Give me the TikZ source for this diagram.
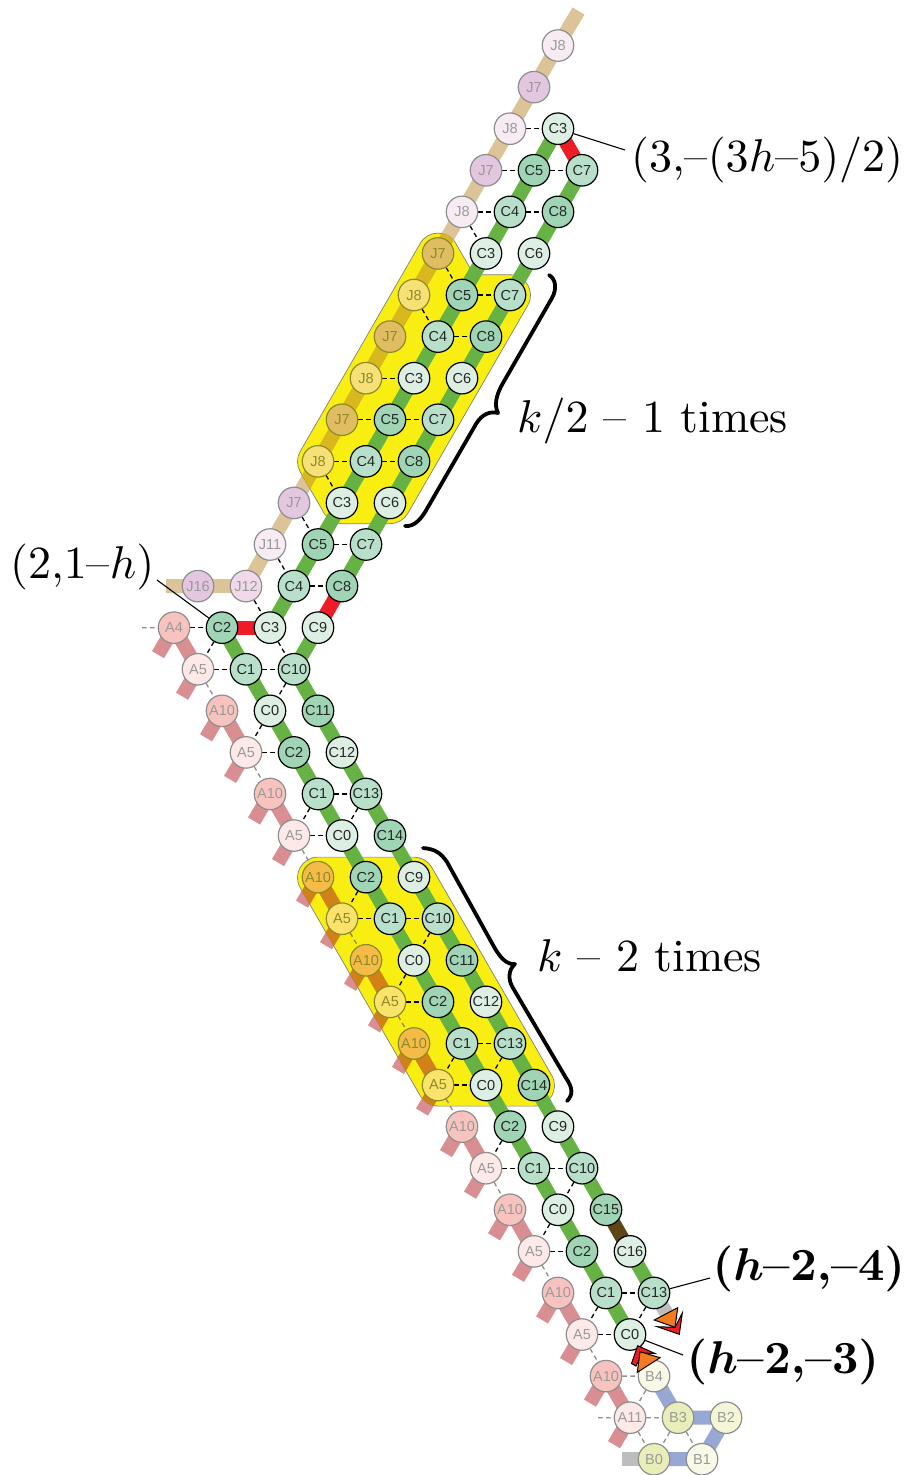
\documentclass[tikz,border=0pt]{standalone}
\usepackage{graphicx}
\usepackage[no-math]{fontspec}
\setsansfont{Liberation Sans}
\usetikzlibrary{calc,backgrounds}
\pgfdeclarelayer{lyback}\pgfdeclarelayer{lybox}\pgfdeclarelayer{lydark}\pgfdeclarelayer{lydash}\pgfdeclarelayer{lyfront}
\pgfsetlayers{lyback,lybox,lydark,lydash,lyfront,main}
\definecolor{cL}{HTML}{DDEEE3}\definecolor{cD}{HTML}{9FD4B4}\definecolor{cM}{HTML}{B8DFC9}
\definecolor{jL}{HTML}{F7ECF3}\definecolor{jD}{HTML}{E3C6DF}\definecolor{jM}{HTML}{EFD9EA}
\definecolor{aD}{HTML}{F8C3BF}\definecolor{aL}{HTML}{FDE9E7}
\definecolor{bL}{HTML}{F8F9E6}\definecolor{bD}{HTML}{E9EDB8}\definecolor{bM}{HTML}{F4F6D6}
\definecolor{yJL}{HTML}{F6E176}\definecolor{yJD}{HTML}{E0BC63}\definecolor{yAD}{HTML}{F4BC46}\definecolor{yAL}{HTML}{FAE36A}
\definecolor{fadeT}{HTML}{9A9A9A}\definecolor{fadeB}{HTML}{8E8E8E}\definecolor{oliv}{HTML}{8D8A2A}
\definecolor{boxY}{HTML}{F9EE12}\definecolor{tanB}{HTML}{DCC498}\definecolor{salB}{HTML}{D98E92}
\definecolor{tanY}{HTML}{D8B81E}\definecolor{salY}{HTML}{D28018}
\definecolor{grnB}{HTML}{66B245}\definecolor{redB}{HTML}{EE1C25}\definecolor{brnB}{HTML}{5E4516}
\definecolor{bluB}{HTML}{98A8D4}\definecolor{gryB}{HTML}{BDBDBD}\definecolor{orgT}{HTML}{F47B20}
\tikzset{
 site/.style={circle,minimum size=31.5pt,inner sep=0pt,line width=1.2pt,font=\fontsize{14.5}{14.5}\selectfont\sffamily},
 chem/.style={site,draw=black,text=black!85},
 fade/.style={site,draw=fadeB,text=fadeT},
 yfade/.style={site,draw=oliv,text=oliv},
 band/.style={line width=14pt,line cap=butt,line join=round},
 tanband/.style={band,draw=tanB},
 salband/.style={band,draw=salB},
 grnband/.style={band,draw=grnB},
 redband/.style={band,draw=redB},
 brnband/.style={band,draw=brnB},
 bluband/.style={band,draw=bluB},
 gryband/.style={band,draw=gryB},
 bdash/.style={draw=black,line width=1.3pt,dash pattern=on 4.5pt off 3.5pt},
 fdash/.style={draw=fadeB,line width=1.3pt,dash pattern=on 4.5pt off 3.5pt},
 ydash/.style={draw=oliv,line width=1.3pt,dash pattern=on 4.5pt off 3.5pt},
 leader/.style={draw=black,line width=1.1pt},
 bigtext/.style={inner sep=0pt,text=black},
 bracepath/.style={draw=black,line width=3.8pt,line cap=round,line join=round},
 tri/.style={draw=black,line width=1pt,line join=miter},
}
\newcommand{\boxone}{(420.25,243.35) .. controls (428.14,229.68) and (447.86,229.68) .. (455.75,243.35) -- (473.84,274.7) -- (510,274.7) .. controls (525.78,274.7) and (535.64,291.78) .. (527.75,305.45) -- (407.75,513.45) .. controls (404.09,519.79) and (397.32,523.7) .. (390,523.7) -- (342,523.7) .. controls (334.68,523.7) and (327.91,519.79) .. (324.25,513.45) -- (300.25,471.85) .. controls (296.59,465.51) and (296.59,457.69) .. (300.25,451.35) -- cycle}
\newcommand{\boxtwo}{(318,857.1) -- (414,857.1) .. controls (421.32,857.1) and (428.09,861.01) .. (431.75,867.35) -- (551.75,1075.35) .. controls (559.64,1089.02) and (549.78,1106.1) .. (534,1106.1) -- (438,1106.1) .. controls (430.68,1106.1) and (423.91,1102.19) .. (420.25,1095.85) -- (300.25,887.85) .. controls (292.36,874.18) and (302.22,857.1) .. (318,857.1) -- cycle}
\newcommand{\bigt}[1]{\scalebox{4.6}{#1}}
\begin{document}
\begin{tikzpicture}[x=1pt,y=-1pt]
\useasboundingbox (0,0) rectangle (908,1475);
% J chain
\foreach \r/\t/\st/\f in {-2/J8/fade/jL,-1/J7/fade/jD,0/J8/fade/jL,1/J7/fade/jD,2/J8/fade/jL,3/J7/yfade/yJD,4/J8/yfade/yJL,5/J7/yfade/yJD,6/J8/yfade/yJL,7/J7/yfade/yJD,8/J8/yfade/yJL,9/J7/fade/jD,10/J11/fade/jL,11/J12/fade/jM}
  \node[\st,fill=\f] (j\r) at ({510-24*\r},{128.7+41.58*\r}) {\t};
\node[fade,fill=jD] (j16) at (198,586.1) {J16};
% C chain a
\foreach \r/\t/\f in {0/C3/cL,1/C5/cD,2/C4/cM,3/C3/cL,4/C5/cD,5/C4/cM,6/C3/cL,7/C5/cD,8/C4/cM,9/C3/cL,10/C5/cD,11/C4/cM,12/C3/cL}
  \node[chem,fill=\f] (a\r) at ({558-24*\r},{128.7+41.58*\r}) {\t};
% C chain b upper
\foreach \r/\t/\f in {1/C7/cM,2/C8/cD,3/C6/cL,4/C7/cM,5/C8/cD,6/C6/cL,7/C7/cM,8/C8/cD,9/C6/cL,10/C7/cM,11/C8/cD,12/C9/cL}
  \node[chem,fill=\f] (b\r) at ({606-24*\r},{128.7+41.58*\r}) {\t};
% C chain b lower
\foreach \r/\t/\f in {13/C10/cM,14/C11/cD,15/C12/cL,16/C13/cM,17/C14/cD,18/C9/cL,19/C10/cM,20/C11/cD,21/C12/cL,22/C13/cM,23/C14/cD,24/C9/cL,25/C10/cM,26/C15/cD,27/C16/cL,28/C13/cM}
  \node[chem,fill=\f] (b\r) at ({294+24*(\r-13)},{128.7+41.58*\r}) {\t};
% C chain c
\foreach \r/\t/\f in {12/C2/cD,13/C1/cM,14/C0/cL,15/C2/cD,16/C1/cM,17/C0/cL,18/C2/cD,19/C1/cM,20/C0/cL,21/C2/cD,22/C1/cM,23/C0/cL,24/C2/cD,25/C1/cM,26/C0/cL,27/C2/cD,28/C1/cM,29/C0/cL}
  \node[chem,fill=\f] (c\r) at ({222+24*(\r-12)},{128.7+41.58*\r}) {\t};
% A chain
\foreach \r/\t/\st/\f in {12/A4/fade/aD,13/A5/fade/aL,14/A10/fade/aD,15/A5/fade/aL,16/A10/fade/aD,17/A5/fade/aL,18/A10/yfade/yAD,19/A5/yfade/yAL,20/A10/yfade/yAD,21/A5/yfade/yAL,22/A10/yfade/yAD,23/A5/yfade/yAL,24/A10/fade/aD,25/A5/fade/aL,26/A10/fade/aD,27/A5/fade/aL,28/A10/fade/aD,29/A5/fade/aL,30/A10/fade/aD,31/A11/fade/aL}
  \node[\st,fill=\f] (p\r) at ({174+24*(\r-12)},{128.7+41.58*\r}) {\t};
\foreach \r in {12,13,...,31}
  \coordinate (s\r) at ($(p\r)+(-16,27)$);
% B nodes
\node[fade,fill=bL] (q4) at (654,1376.1) {B4};
\node[fade,fill=bD] (q3) at (678,1417.7) {B3};
\node[fade,fill=bM] (q2) at (726,1417.7) {B2};
\node[fade,fill=bD] (q0) at (654,1459.2) {B0};
\node[fade,fill=bL] (q1) at (702,1459.2) {B1};
% free ends
\coordinate (tanTop) at (578.5,11);
\coordinate (tanEnd) at (166,586.1);
\coordinate (gryA) at (672,1322);
\coordinate (gryB) at (622,1459.2);
\coordinate (dashA) at (142,627.7);
\coordinate (dashB) at (598,1417.7);
% back bands
\begin{pgfonlayer}{lyback}
 \draw[tanband] (tanTop)--(j-2.center)--(j-1.center)--(j0.center)--(j1.center)--(j2.center)--(j3.center)--(j4.center)--(j5.center)--(j6.center)--(j7.center)--(j8.center)--(j9.center)--(j10.center)--(j11.center)--(j16.center)--(tanEnd);
 \foreach \r in {12,13,...,31}{\draw[salband] (p\r.center)--(s\r);}
 \foreach \u/\v in {12/13,14/15,16/17,18/19,20/21,22/23,24/25,26/27,28/29,30/31}{\draw[salband] (p\u.center)--(p\v.center);}
 \draw[bluband] (q4.center)--(q3.center)--(q2.center)--(q1.center)--(q0.center);
 \draw[gryband] (q0.center)--(gryB);
 \draw[gryband] (b28.center)--(gryA);
\end{pgfonlayer}
% yellow boxes
\begin{pgfonlayer}{lybox}
 \path[fill=boxY,draw=gray,line width=0.7pt] \boxone;
 \path[fill=boxY,draw=gray,line width=0.7pt] \boxtwo;
\end{pgfonlayer}
% darker bands inside boxes
\begin{pgfonlayer}{lydark}
 \begin{scope}
  \clip \boxone;
  \draw[band,draw=tanY] (j2.center)--(j3.center)--(j4.center)--(j5.center)--(j6.center)--(j7.center)--(j8.center)--(j9.center);
 \end{scope}
 \begin{scope}
  \clip \boxtwo;
  \foreach \r in {18,19,...,23}{\draw[band,draw=salY] (p\r.center)--(s\r);}
  \foreach \u/\v in {18/19,20/21,22/23}{\draw[band,draw=salY] (p\u.center)--(p\v.center);}
 \end{scope}
\end{pgfonlayer}
% dashed edges
\begin{pgfonlayer}{lydash}
 \foreach \u/\v in {j0/a0,j1/a1,a1/b1,j2/a2,a2/b2,j2/a3,j3/a4,a4/b4,j4/a5,a5/b5,j6/a6,j7/a7,a7/b7,j8/a8,a8/b8,j8/a9,j9/a10,a10/b10,j10/a11,a11/b11,j11/a12,p12/c12,c12/p13,p13/c13,c13/b13,a12/b13,b13/c14,c14/p15,p15/c15,c16/b16,c16/p17,b16/c17,p17/c17,c18/p19,p19/c19,c19/b19,b19/c20,c20/p21,p21/c21,c22/b22,c22/p23,b22/c23,p23/c23,c24/p25,p25/c25,c25/b25,b25/c26,c26/p27,p27/c27,c28/b28,c28/p29,b28/c29,p29/c29}{\draw[bdash] (\u)--(\v);}
 \foreach \u/\v in {p13/p14,p15/p16,p17/p18,p23/p24,p25/p26,p27/p28,p29/p30,p30/q4,q4/p31,p31/q3,p31/q0,q3/q0,q3/q1,dashA/p12,dashB/p31}{\draw[fdash] (\u)--(\v);}
 \foreach \u/\v in {p19/p20,p21/p22}{\draw[ydash] (\u)--(\v);}
\end{pgfonlayer}
% strong bands
\begin{pgfonlayer}{lyfront}
 \draw[grnband] (a0.center)--(a1.center)--(a2.center)--(a3.center)--(a4.center)--(a5.center)--(a6.center)--(a7.center)--(a8.center)--(a9.center)--(a10.center)--(a11.center)--(a12.center);
 \draw[grnband] (b1.center)--(b2.center)--(b3.center)--(b4.center)--(b5.center)--(b6.center)--(b7.center)--(b8.center)--(b9.center)--(b10.center)--(b11.center);
 \draw[grnband] (b12.center)--(b13.center)--(b14.center)--(b15.center)--(b16.center)--(b17.center)--(b18.center)--(b19.center)--(b20.center)--(b21.center)--(b22.center)--(b23.center)--(b24.center)--(b25.center)--(b26.center);
 \draw[grnband] (b27.center)--(b28.center);
 \draw[grnband] (c12.center)--(c13.center)--(c14.center)--(c15.center)--(c16.center)--(c17.center)--(c18.center)--(c19.center)--(c20.center)--(c21.center)--(c22.center)--(c23.center)--(c24.center)--(c25.center)--(c26.center)--(c27.center)--(c28.center)--(c29.center);
 \draw[brnband] (b26.center)--(b27.center);
 \draw[redband] (a0.center)--(b1.center);
 \draw[redband] (b11.center)--(b12.center);
 \draw[redband] (c12.center)--(a12.center);
\end{pgfonlayer}
% markers
\path[tri,fill=redB] (682.3,1313) -- (679.3,1334.3) -- (657.3,1326.7) -- (675,1327.3) -- cycle;
\path[tri,fill=orgT] (677.7,1307.7) -- (654.3,1320) -- (675,1327.3) -- cycle;
\path[tri,fill=redB] (637.7,1345.7) -- (655,1353.5) -- (642,1353) -- (636,1366) -- (631.5,1363.5) -- cycle;
\path[tri,fill=orgT] (640,1351.7) -- (660,1357.7) -- (637.3,1372.3) -- cycle;
% labels
\node[bigtext,anchor=base west] (lab3) at (631,171) {\bigt{$(3{,}\mbox{--}(3h\mbox{--}5)/2)$}};
\node[bigtext,anchor=base west] (lab2) at (10,578.5) {\bigt{$(2{,}1\mbox{--}h)$}};
\node[bigtext,anchor=base west] (labh4) at (712.5,1280.5) {\bigt{\boldmath$(h\mbox{\bfseries --}2{,}\mbox{\bfseries --}4)$}};
\node[bigtext,anchor=base west] (labh3) at (686.5,1373.5) {\bigt{\boldmath$(h\mbox{\bfseries --}2{,}\mbox{\bfseries --}3)$}};
\node[bigtext,anchor=base west] (labk2) at (517,432) {\bigt{$k/2$ -- 1 times}};
\node[bigtext,anchor=base west] (labk) at (537,971) {\bigt{$k$ -- 2 times}};
\coordinate (endA) at (625,150);
\coordinate (endB) at (157,580);
\coordinate (endC) at (710,1278);
\coordinate (endD) at (683,1355);
\draw[leader] (a0)--(endA);
\draw[leader] (c12)--(endB);
\draw[leader] (b28)--(endC);
\draw[leader] (c29)--(endD);
% braces
\draw[bracepath] (549,275) .. controls (556,279) and (557,289) .. (552,298) -- (503,383) .. controls (496,395) and (494,405) .. (498,413) .. controls (490,411) and (482,414) .. (476,424) -- (428,507) .. controls (422,518) and (415,527) .. (405,526);
\draw[bracepath] (423,848) .. controls (435,849) and (441,853) .. (447,862) -- (493,945) .. controls (500,958) and (507,965) .. (515,964) .. controls (508,970) and (508,980) .. (513,988) -- (566,1078) .. controls (573,1088) and (573,1095) .. (567,1101);
\end{tikzpicture}
\end{document}
